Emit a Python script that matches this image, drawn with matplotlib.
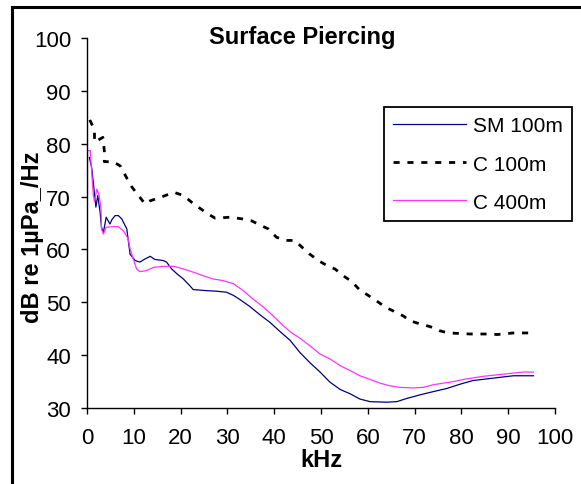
import matplotlib
matplotlib.use('Agg')
import matplotlib.pyplot as plt
from matplotlib.patches import Rectangle

plt.rcParams['font.family'] = ['Liberation Sans', 'DejaVu Sans']

# SM 100m (blue)
sm_khz = [0.5, 1.0, 1.5, 1.9, 2.3, 2.8, 3.1, 3.5, 4.1, 4.9, 5.3, 6.0, 6.7, 7.4, 8.5, 9.2,
          10.3, 11.3, 12.4, 13.5, 14.5, 16.3, 17.0, 18.1, 19.2, 20.6, 22.0, 22.7, 25.6, 27.7,
          29.8, 31.3, 32.7, 34.8, 37.0, 39.1, 41.2, 43.4, 45.5, 47.6, 49.8, 51.9, 54.1, 56.2,
          58.3, 60.5, 64.0, 66.2, 68.3, 71.2, 74.0, 76.9, 79.7, 82.5, 85.4, 88.2, 91.1, 95.4]
sm_db = [77.4, 75.5, 71.4, 68.0, 70.2, 67.0, 64.2, 63.2, 66.1, 64.8, 65.6, 66.4, 66.4, 65.8, 63.9, 59.1,
         57.9, 57.6, 58.2, 58.7, 58.1, 57.9, 57.6, 56.3, 55.4, 54.4, 53.1, 52.4, 52.2, 52.1,
         51.9, 51.3, 50.5, 49.2, 47.6, 46.2, 44.5, 42.8, 40.5, 38.6, 36.8, 34.9, 33.5, 32.7,
         31.7, 31.2, 31.1, 31.2, 31.8, 32.5, 33.1, 33.7, 34.5, 35.2, 35.5, 35.8, 36.1, 36.1]

# C 100m (black dashed)
c100_khz = [0.6, 1.6, 1.6, 3.4, 3.7, 3.7, 5.6, 7.1, 8.5, 9.6, 11.0, 12.4, 13.5, 15.2, 18.6,
            20.6, 22.4, 24.1, 25.9, 27.4, 30.6, 33.0, 35.2, 37.0, 38.7, 40.5, 42.5, 44.4,
            46.2, 47.6, 49.8, 51.6, 53.0, 54.8, 56.6, 58.3, 60.1, 62.3, 63.7, 65.8, 67.6,
            69.0, 71.2, 73.3, 75.4, 77.2, 79.7, 81.8, 84.0, 86.1, 87.6, 89.0, 91.1, 93.2, 95.4]
c100_db = [84.5, 82.6, 80.3, 81.2, 78.7, 76.6, 76.6, 75.8, 73.5, 71.8, 70.2, 68.6, 69.2, 69.7, 70.8,
           70.2, 68.9, 67.8, 66.7, 65.9, 66.1, 65.8, 65.4, 64.6, 63.9, 62.3, 61.7, 61.7,
           60.2, 59.1, 57.7, 56.8, 56.3, 55.0, 53.9, 52.3, 51.3, 50.0, 49.1, 48.2, 47.4,
           46.5, 45.9, 45.4, 44.6, 44.2, 44.1, 44.0, 44.0, 44.0, 43.9, 44.0, 44.2, 44.2, 44.2]

# C 400m (magenta)
c400_khz = [0.1, 0.1, 0.7, 1.0, 1.35, 1.6, 2.1, 2.6, 3.0, 3.1, 3.5, 4.1, 5.6, 6.7, 7.8, 8.8, 9.2,
            10.0, 10.6, 11.3, 12.7, 14.2, 16.3, 18.5, 20.6, 22.7, 24.9, 27.0, 29.1, 31.3,
            33.4, 35.5, 37.7, 39.8, 41.9, 43.6, 45.5, 47.6, 49.8, 51.9, 54.1, 56.2, 58.3,
            60.5, 62.6, 64.7, 66.9, 69.7, 71.9, 74.0, 76.1, 78.3, 80.4, 82.5, 84.7, 86.8,
            88.9, 91.1, 93.2, 95.4]
c400_db = [70.5, 78.7, 78.7, 74.6, 70.2, 69.0, 71.4, 70.2, 67.7, 63.9, 62.9, 64.2, 64.3, 64.3, 63.5, 62.0, 60.1,
           57.9, 56.3, 55.8, 56.0, 56.6, 56.8, 56.8, 56.3, 55.7, 55.0, 54.4, 54.1, 53.5,
           52.2, 50.6, 49.1, 47.4, 45.6, 44.3, 43.2, 41.8, 40.2, 39.3, 38.0, 37.1, 36.1,
           35.4, 34.7, 34.2, 33.9, 33.8, 33.9, 34.4, 34.7, 35.0, 35.4, 35.7, 36.0, 36.2,
           36.4, 36.6, 36.8, 36.8]

xticks = list(range(0, 101, 10))
yticks = list(range(30, 101, 10))

fig = plt.figure(figsize=(5.81, 4.85), dpi=100)
ax = fig.add_axes([87/581, 1-409/485, 468/581, 370/485])

ax.plot(sm_khz, sm_db, color='#000080', lw=0.9, label='SM 100m')
ax.plot(c100_khz, c100_db, color='black', lw=2, linestyle=(0, (2.2, 2.8)), label='C 100m')
ax.plot(c400_khz, c400_db, color='#ff33ff', lw=0.9, label='C 400m')

ax.set_xlim(0, 100)
ax.set_ylim(30, 100)
ax.set_xticks(xticks)
ax.set_yticks(yticks)
for s in ['top', 'right']:
    ax.spines[s].set_visible(False)
for s in ['left', 'bottom']:
    ax.spines[s].set_linewidth(1.0)
ax.tick_params(direction='out', length=4.5, width=1.0, labelsize=16)
ax.tick_params(axis='x', pad=9)
ax.tick_params(axis='y', pad=7)

ax.set_xlabel('kHz', fontsize=17, fontweight='bold', labelpad=0)
fig.text(33/581, 1-237/485, 'dB re 1µPa_/Hz', rotation=90, fontsize=17, fontweight='bold',
         ha='center', va='center')
fig.text(302/581, 1-38/485, 'Surface Piercing', fontsize=17, fontweight='bold',
         ha='center', va='center')

leg = ax.legend(loc='upper left', bbox_to_anchor=(384/581, 1-108/485), bbox_transform=fig.transFigure,
                fontsize=15, frameon=True, fancybox=False, edgecolor='black', framealpha=1,
                handlelength=3.5, handletextpad=0.3, labelspacing=0.92, borderpad=0.45,
                borderaxespad=0)
leg.get_frame().set_linewidth(1.3)

# outer chart border
fig.patches.append(Rectangle((12/581, -0.02), 1.0, 1-8/485+0.02, transform=fig.transFigure,
                             fill=False, edgecolor='black', lw=2.2, clip_on=False))

fig.savefig('out.png', dpi=100)
